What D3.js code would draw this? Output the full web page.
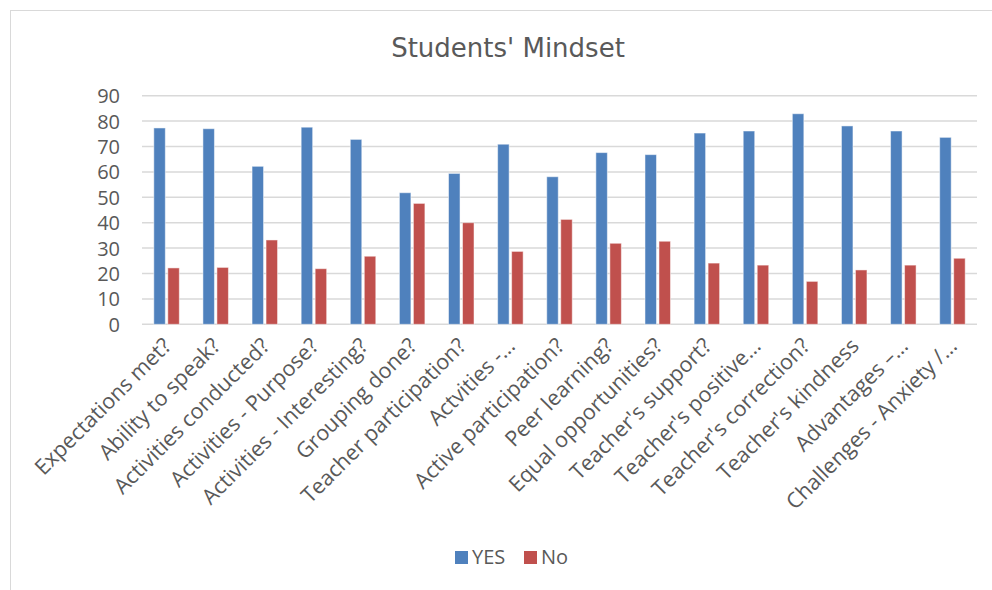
<!DOCTYPE html>
<html><head><meta charset="utf-8">
<script src="https://cdn.jsdelivr.net/npm/d3@7"></script>
<style>body{margin:0;background:#fff}svg{display:block}</style>
</head><body>
<svg id="c" width="992" height="590"></svg>
<script>
const categories = ["Expectations met?","Ability to speak?","Activities conducted?","Activities - Purpose?","Activities - Interesting?","Grouping done?","Teacher participation?","Actvities -…","Active participation?","Peer learning?","Equal opportunities?","Teacher's support?","Teacher's positive…","Teacher's correction?","Teacher's kindness","Advantages –…","Challenges - Anxiety /…"];
const yesValues = [77.3,77.0,62.2,77.6,72.8,51.8,59.4,70.9,58.1,67.6,66.8,75.3,76.1,82.9,78.1,76.1,73.6];
const noValues  = [22.2,22.4,33.2,21.9,26.8,47.6,40.0,28.7,41.3,31.9,32.7,24.1,23.3,16.9,21.4,23.3,26.0];
const yTicks = [0,10,20,30,40,50,60,70,80,90];
const seriesNames = ["YES","No"];
const colors = ["#4F81BD","#C0504D"];

(function(){
const svg = d3.select("#c");
const font = "'Open Sans', sans-serif";
svg.append("rect").attr("x",10.5).attr("y",10.5).attr("width",1000).attr("height",600)
  .attr("fill","#fff").attr("stroke","#d9d9d9").attr("stroke-width",1);

svg.append("text").attr("x",508).attr("y",57).attr("text-anchor","middle")
  .attr("font-family","'DejaVu Sans', Verdana, sans-serif").attr("font-size",26)
  .attr("fill","#595959").text("Students' Mindset");

const pL=142, pR=977, pT=95.7, pB=324.3;
const x = d3.scaleBand().domain(categories).range([pL,pR]);
const y = d3.scaleLinear().domain([0,90]).range([pB,pT]);

const grid = svg.append("g");
grid.selectAll("line").data(yTicks).join("line")
  .attr("x1",pL).attr("x2",pR).attr("y1",d=>y(d)).attr("y2",d=>y(d))
  .attr("stroke","#d9d9d9").attr("stroke-width",1.5);

const yAxis = d3.axisLeft(y).tickValues(yTicks).tickSize(0).tickPadding(22);
const ya = svg.append("g").attr("transform",`translate(${pL},0)`).call(yAxis);
ya.select(".domain").remove();
ya.selectAll("text").attr("font-family",font).attr("font-size",20).attr("fill","#595959").attr("dy","0.35em");

const bw = 11.5, gap = 2.5;
const series = [yesValues, noValues];
series.forEach((vals,si)=>{
  svg.append("g").selectAll("rect").data(vals).join("rect")
    .attr("x",(d,i)=>x(categories[i])+x.bandwidth()/2 + (si===0 ? -gap/2-bw : gap/2))
    .attr("y",d=>y(d)).attr("width",bw).attr("height",d=>y(0)-y(d))
    .attr("fill",colors[si]).attr("stroke","#fff").attr("stroke-opacity",0.5).attr("stroke-width",1);
});

const xa = svg.append("g");
xa.selectAll("text").data(categories).join("text")
  .attr("transform",d=>`translate(${x(d)+x.bandwidth()/2+6},${pB+23}) rotate(-45)`)
  .attr("text-anchor","end").attr("font-family",font).attr("font-size",21.5).attr("fill","#595959")
  .text(d=>d);

const leg = svg.append("g");
const legItems = [{n:seriesNames[0],c:colors[0],x:455},{n:seriesNames[1],c:colors[1],x:524}];
legItems.forEach(it=>{
  leg.append("rect").attr("x",it.x).attr("y",551).attr("width",13).attr("height",13).attr("fill",it.c);
  leg.append("text").attr("x",it.x+17).attr("y",564).attr("font-family",font).attr("font-size",20)
    .attr("fill","#595959").text(it.n);
});
})();
</script>
</body></html>
